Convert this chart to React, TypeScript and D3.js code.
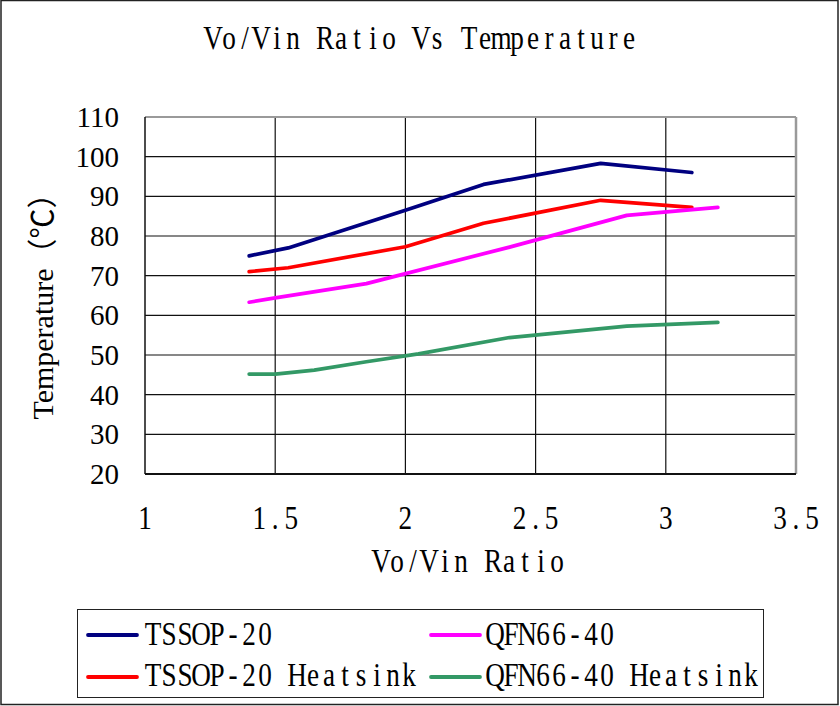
import React from 'react';
import * as d3 from 'd3';

// Vo/Vin ratio vs temperature, four package variants
const tssopX = [1.4, 1.55, 2.0, 2.3, 2.75, 3.1];
const tssopY = [75, 77, 86.5, 93, 98.3, 96];

const tssopHsX = [1.4, 1.55, 2.0, 2.3, 2.75, 3.1];
const tssopHsY = [71, 72, 77.3, 83.2, 89, 87.2];

const qfnX = [1.4, 1.5, 1.85, 2.4, 2.85, 3.2];
const qfnY = [63.3, 64.4, 68, 77.2, 85.2, 87.2];

const qfnHsX = [1.4, 1.5, 1.65, 1.85, 2.05, 2.4, 2.85, 3.2];
const qfnHsY = [45.2, 45.2, 46.2, 48.3, 50.3, 54.4, 57.3, 58.2];

const xTicks = [1, 1.5, 2, 2.5, 3, 3.5];
const xTickLabels = ['1', '1.5', '2', '2.5', '3', '3.5'];
const yTicks = [20, 30, 40, 50, 60, 70, 80, 90, 100, 110];

const SERIES = [
  { name: 'TSSOP-20', xs: tssopX, ys: tssopY, color: '#000080' },
  { name: 'TSSOP-20 Heatsink', xs: tssopHsX, ys: tssopHsY, color: '#ff0000' },
  { name: 'QFN66-40', xs: qfnX, ys: qfnY, color: '#ff00ff' },
  { name: 'QFN66-40 Heatsink', xs: qfnHsX, ys: qfnHsY, color: '#339966' },
];

const W = 840;
const H = 706;
const SERIF = "'Liberation Serif', 'Times New Roman', serif";
const CELL = 16;

// SimSun-like half-width text: every character sits in a fixed 16px cell
function MonoText({ text, x0, y, size = 34, sx = 0.8 }: { text: string; x0: number; y: number; size?: number; sx?: number }) {
  const xs = Array.from(text).map((_, i) => (((i + 0.5) * CELL) / sx).toFixed(2)).join(' ');
  return (
    <g transform={`translate(${x0},${y}) scale(${sx},1)`}>
      <text x={xs} y={0} textAnchor="middle" fontFamily={SERIF} fontSize={size} fill="#000" style={{ whiteSpace: 'pre' }}>
        {text}
      </text>
    </g>
  );
}

export default function App() {
  const margin = { left: 145, right: 796, top: 117, bottom: 474 };
  const x = d3.scaleLinear().domain([1, 3.5]).range([margin.left, margin.right]);
  const y = d3.scaleLinear().domain([20, 110]).range([margin.bottom, margin.top]);

  const line = d3
    .line<[number, number]>()
    .x((d) => x(d[0]))
    .y((d) => y(d[1]));

  const legendRows = [
    { s: SERIES[0], lx: 88, tx: 145, ly: 635, ty: 645 },
    { s: SERIES[2], lx: 431, tx: 487, ly: 635, ty: 645 },
    { s: SERIES[1], lx: 88, tx: 145, ly: 677, ty: 686 },
    { s: SERIES[3], lx: 431, tx: 487, ly: 677, ty: 686 },
  ];

  return (
    <div style={{ position: 'absolute', left: 0, top: 0 }}>
      <svg width={W} height={H} style={{ display: 'block', background: '#fff' }}>
        <rect x={1} y={0.5} width={837} height={704} fill="#fff" stroke="#222" strokeWidth={1.5} />

        <MonoText text="Vo/Vin Ratio Vs Temperature" x0={205} y={49} />

        {/* grid */}
        {yTicks.filter((t) => t > 20 && t < 110).map((t) => (
          <line key={'gy' + t} x1={margin.left} x2={margin.right} y1={y(t)} y2={y(t)} stroke="#111" strokeWidth={1.2} />
        ))}
        {xTicks.filter((t) => t > 1 && t < 3.5).map((t) => (
          <line key={'gx' + t} x1={x(t)} x2={x(t)} y1={margin.top} y2={margin.bottom} stroke="#111" strokeWidth={1.2} />
        ))}

        {/* plot frame */}
        <line x1={margin.left} x2={margin.right} y1={margin.top} y2={margin.top} stroke="#9a9a9a" strokeWidth={2} />
        <line x1={margin.right} x2={margin.right} y1={margin.top} y2={margin.bottom} stroke="#9a9a9a" strokeWidth={2.5} />
        <line x1={margin.left} x2={margin.right} y1={margin.bottom} y2={margin.bottom} stroke="#111" strokeWidth={1.8} />
        <line x1={margin.left} x2={margin.left} y1={margin.top} y2={margin.bottom} stroke="#111" strokeWidth={1.5} />

        {/* series */}
        {SERIES.map((s) => (
          <path
            key={s.name}
            d={line(s.xs.map((v, i) => [v, s.ys[i]] as [number, number])) || ''}
            fill="none"
            stroke={s.color}
            strokeWidth={3.7}
            strokeLinejoin="round"
            strokeLinecap="round"
          />
        ))}

        {/* y axis labels */}
        {yTicks.map((t) => (
          <text key={'yl' + t} x={119} y={y(t) + 10} textAnchor="end" fontFamily={SERIF} fontSize={29} fill="#000">
            {t}
          </text>
        ))}
        <text
          transform={`translate(53,299) rotate(-90)`}
          textAnchor="middle"
          fontFamily={`${SERIF}, 'Noto Sans CJK SC'`}
          fontSize={30}
          fill="#000"
        >
          Temperature（℃）
        </text>

        {/* x axis labels */}
        {xTicks.map((t, i) => {
          const lab = xTickLabels[i];
          return <MonoText key={'xl' + t} text={lab} x0={x(t) - (lab.length * CELL) / 2} y={529} />;
        })}
        <MonoText text="Vo/Vin Ratio" x0={373} y={572} />

        {/* legend */}
        <rect x={77.5} y={609.5} width={686} height={88} fill="#fff" stroke="#222" strokeWidth={1} />
        {legendRows.map((r) => (
          <g key={r.s.name}>
            <line x1={r.lx} x2={r.lx + 49} y1={r.ly} y2={r.ly} stroke={r.s.color} strokeWidth={3.8} strokeLinecap="round" />
            <MonoText text={r.s.name} x0={r.tx} y={r.ty} />
          </g>
        ))}
      </svg>
    </div>
  );
}
